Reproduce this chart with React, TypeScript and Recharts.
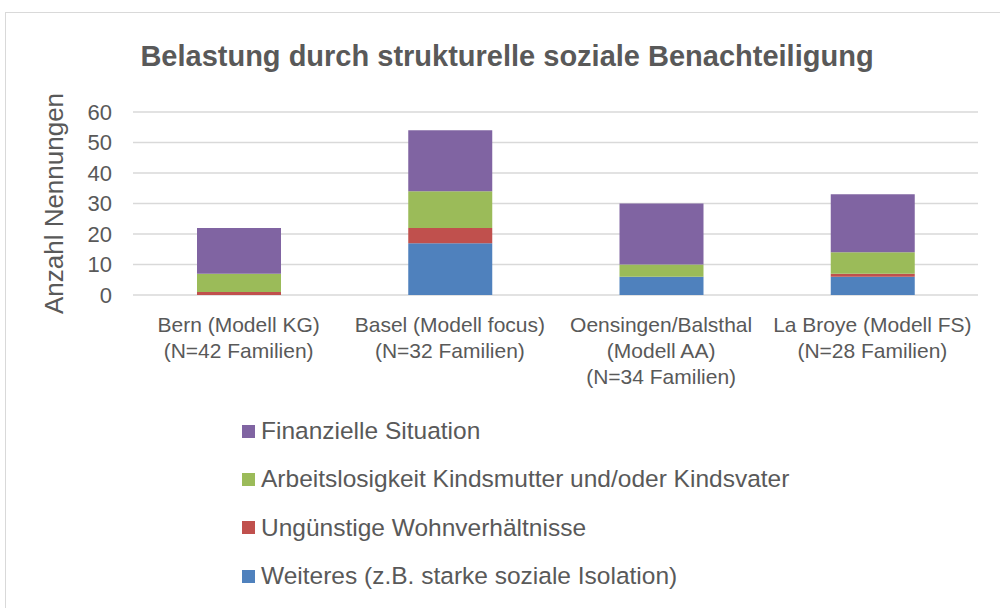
import { BarChart, Bar, XAxis, YAxis, CartesianGrid } from "recharts";

const CATEGORIES = [
  "Bern (Modell KG)\n(N=42 Familien)",
  "Basel (Modell focus)\n(N=32 Familien)",
  "Oensingen/Balsthal\n(Modell AA)\n(N=34 Familien)",
  "La Broye (Modell FS)\n(N=28 Familien)",
];

// stacked from the bottom up
const WEITERES = [0, 17, 6, 6];
const WOHNEN = [1, 5, 0, 1];
const ARBEIT = [6, 12, 4, 7];
const FINANZEN = [15, 20, 20, 19];

const Y_TICKS = [0, 10, 20, 30, 40, 50, 60];

const SERIES = [
  { key: "weiteres", name: "Weiteres (z.B. starke soziale Isolation)", color: "#4f81bd" },
  { key: "wohnen", name: "Ungünstige Wohnverhältnisse", color: "#c0504d" },
  { key: "arbeit", name: "Arbeitslosigkeit Kindsmutter und/oder Kindsvater", color: "#9bbb59" },
  { key: "finanzen", name: "Finanzielle Situation", color: "#8064a2" },
];

const data = CATEGORIES.map((cat, i) => ({
  cat,
  weiteres: WEITERES[i],
  wohnen: WOHNEN[i],
  arbeit: ARBEIT[i],
  finanzen: FINANZEN[i],
}));

const FONT = '"Liberation Sans", Arial, Helvetica, sans-serif';
const TEXT = "#595959";

function CategoryTick({ x, y, payload }: any) {
  const lines = String(payload.value).split("\n");
  return (
    <text x={x} y={y} textAnchor="middle" fill={TEXT} fontSize={21} fontFamily={FONT}>
      {lines.map((l, i) => (
        <tspan key={i} x={x} dy={i === 0 ? 29 : 26}>
          {l}
        </tspan>
      ))}
    </text>
  );
}

export default function App() {
  return (
    <div
      style={{
        position: "absolute",
        left: 0,
        top: 0,
        width: 1000,
        height: 608,
        overflow: "hidden",
        background: "#fff",
        fontFamily: FONT,
      }}
    >
      <div
        style={{
          position: "absolute",
          left: 5,
          top: 12,
          width: 1100,
          height: 700,
          borderLeft: "1.5px solid #d9d9d9",
          borderTop: "1.5px solid #d9d9d9",
        }}
      />
      <div
        style={{
          position: "absolute",
          left: 0,
          width: 1014,
          top: 42,
          textAlign: "center",
          fontSize: 29,
          lineHeight: "29px",
          fontWeight: "bold",
          color: TEXT,
        }}
      >
        Belastung durch strukturelle soziale Benachteiligung
      </div>

      <div style={{ position: "absolute", left: 0, top: 0 }}>
        <BarChart
          width={1000}
          height={608}
          data={data}
          margin={{ top: 112, right: 22, bottom: 223, left: 0 }}
        >
          <CartesianGrid vertical={false} stroke="#d9d9d9" strokeWidth={1.5} />
          <XAxis
            dataKey="cat"
            axisLine={false}
            tickLine={false}
            height={90}
            interval={0}
            tick={<CategoryTick />}
          />
          <YAxis
            width={133}
            domain={[0, 60]}
            ticks={Y_TICKS}
            interval={0}
            axisLine={false}
            tickLine={false}
            tickMargin={15}
            tick={{ fontSize: 22, fill: TEXT, fontFamily: FONT }}
            label={{
              value: "Anzahl Nennungen",
              angle: -90,
              position: "center",
              dx: -13,
              fontSize: 26,
              fill: TEXT,
              fontFamily: FONT,
            }}
          />
          {SERIES.map((s) => (
            <Bar
              key={s.key}
              dataKey={s.key}
              name={s.name}
              stackId="a"
              fill={s.color}
              barSize={84}
              isAnimationActive={false}
            />
          ))}
        </BarChart>
      </div>

      <div style={{ position: "absolute", left: 242, top: 407 }}>
        {[...SERIES].reverse().map((s) => (
          <div
            key={s.key}
            style={{
              display: "flex",
              alignItems: "center",
              height: 48.3,
              fontSize: 24.5,
              color: TEXT,
            }}
          >
            <span
              style={{
                display: "inline-block",
                width: 13,
                height: 13,
                background: s.color,
                marginRight: 6,
              }}
            />
            {s.name}
          </div>
        ))}
      </div>
    </div>
  );
}
